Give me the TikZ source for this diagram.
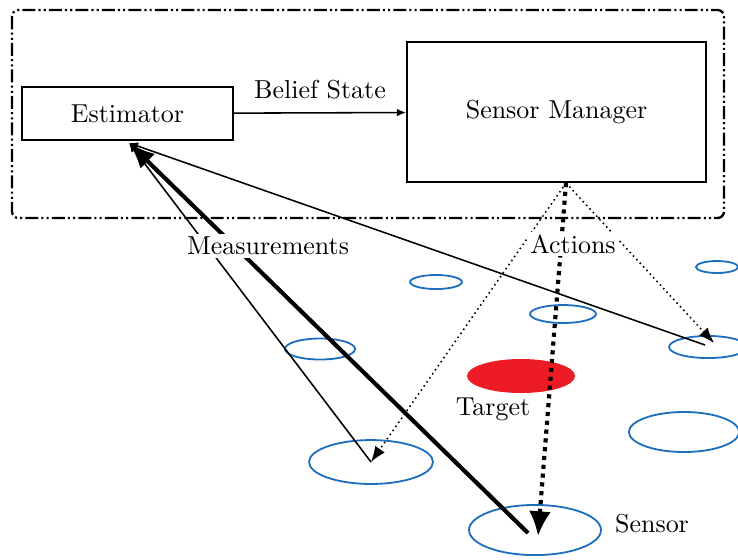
\documentclass[tikz,border=0pt]{standalone}
\usetikzlibrary{arrows.meta,shapes.geometric}
\definecolor{sensorblue}{RGB}{30,110,190}
\definecolor{targetred}{RGB}{237,28,36}

\begin{document}
\begin{tikzpicture}[x=0.385pt,y=-0.385pt,line width=0.6pt,>={Latex[length=3.5pt,width=3pt]}]
  \tikzset{block/.style={draw,line width=0.8pt,inner sep=0pt},
    sensor/.style={ellipse,draw=sensorblue,line width=0.7pt,inner sep=0pt},
    lbl/.style={fill=white,inner sep=1pt},
    meas/.style={line width=0.6pt,->},
    bigmeas/.style={line width=1.6pt,-{Latex[length=10pt,width=8pt]}},
    act/.style={line width=0.6pt,dash pattern=on 0.6pt off 1.3pt,-{Latex[length=6pt,width=4.5pt]}},
    bigact/.style={line width=1.6pt,dash pattern=on 1.6pt off 1.8pt,-{Latex[length=9.5pt,width=8.5pt]}}}
  \useasboundingbox (0,0) rectangle (738,559);

  % control loop
  \draw[line width=0.9pt,rounded corners=2.5pt,dash pattern=on 5pt off 1.2pt on 0.8pt off 1.2pt on 0.8pt off 1.2pt] (12,10) rectangle (724,218);
  \node[block,minimum width=81.2pt,minimum height=20.4pt] (est) at (127.5,113.5) {Estimator};
  \node[block,minimum width=115.1pt,minimum height=53.9pt] (sm) at (556.5,112) {Sensor Manager};
  \path[->] (est) edge node[above=1.5pt] {Belief State} (sm);

  % sensors and target
  \node[sensor,minimum width=20.0pt,minimum height=5.4pt] (s1) at (436,282) {};
  \node[sensor,minimum width=16.2pt,minimum height=4.6pt] (s2) at (717,267) {};
  \node[sensor,minimum width=25.4pt,minimum height=6.9pt] (s3) at (563,314) {};
  \node[sensor,minimum width=27.0pt,minimum height=8.1pt] (s4) at (320,349) {};
  \node[sensor,minimum width=30.0pt,minimum height=8.5pt] (s5) at (708,347) {};
  \node[sensor,minimum width=42.4pt,minimum height=15.4pt] (s6) at (684,432) {};
  \node[sensor,minimum width=47.7pt,minimum height=16.9pt] (s7) at (371,462) {};
  \node[sensor,minimum width=50.8pt,minimum height=19.3pt] (s8) at (535,530) {};
  \node[ellipse,fill=targetred,inner sep=0pt,minimum width=41.6pt,minimum height=13.1pt] (tgt) at (521,376) {};
  \node (tgtlbl) at (493,409) {Target};
  \node (snslbl) at (652,524) {Sensor};

  \coordinate (tip) at (129,143);
  \coordinate (src) at (566,183);
  \coordinate (m5) at (705,345);
  \coordinate (a5) at (714,343);
  \coordinate (m8) at (528,533);
  \coordinate (a8) at (538,536);

  % measurements
  \draw[meas] (s7.center) -- (tip);
  \draw[meas] (m5) -- (tip);
  \draw[bigmeas] (m8) -- (tip);

  % actions
  \draw[act] (src) -- (s7.center);
  \draw[act] (src) -- (a5);
  \draw[bigact] (src) -- (a8);

  \node[lbl] (measlbl) at (268,246) {Measurements};
  \node[lbl] (actlbl) at (573,244) {Actions};
\end{tikzpicture}
\end{document}
